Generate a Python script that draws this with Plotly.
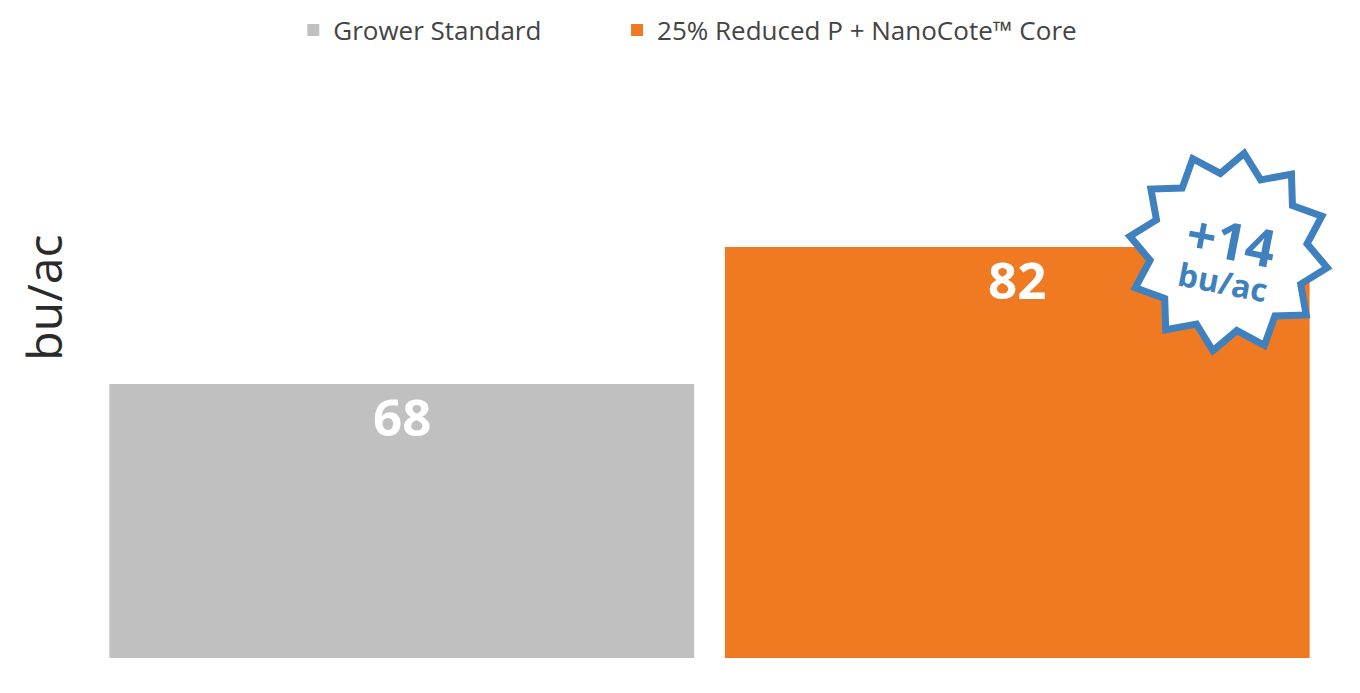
import math
import plotly.graph_objects as go

series = ["Grower Standard", "25% Reduced P + NanoCote™ Core"]
yields = [68, 82]
colors = ["#c0c0c0", "#f07a22"]
badge_main = "+14"
badge_unit = "bu/ac"
y_title = "bu/ac"

BLUE = "#3f80bf"
FONT = "Open Sans"

# plot area size in px, used to place the badge in paper units without distortion
PW, PH = 1232, 587

fig = go.Figure()
legends = ["legend", "legend2"]
for name, val, col, lg in zip(series, yields, colors, legends):
    fig.add_trace(go.Bar(x=[name], y=[val], name=name, marker_color=col,
                         marker_line_width=0, hoverinfo="skip", legend=lg))
    fig.add_annotation(x=name, y=val, text="<b>%d</b>" % val, showarrow=False,
                       yanchor="top", yshift=5,
                       font=dict(family=FONT, size=51, color="white"))

# starburst badge, 12 points
cx, cy = 1135.5, 406
pts = []
for i in range(24):
    ang = math.radians(9 + 15 * i)
    r = 100 if i % 2 == 0 else 79
    pts.append(((cx + r * math.sin(ang)) / PW, (cy + r * math.cos(ang)) / PH))
path = "M " + " L ".join("%.5f %.5f" % p for p in pts) + " Z"
fig.add_shape(type="path", path=path, xref="paper", yref="paper", layer="above",
              fillcolor="#ffffff", line=dict(color=BLUE, width=7))
fig.add_annotation(xref="paper", yref="paper", x=cx / PW, y=cy / PH, xshift=3, yshift=13,
                   text="<b>%s</b>" % badge_main, showarrow=False, textangle=11,
                   xanchor="center", yanchor="middle",
                   font=dict(family=FONT, size=52, color=BLUE))
fig.add_annotation(xref="paper", yref="paper", x=cx / PW, y=cy / PH, xshift=-6, yshift=-29,
                   text="<b>%s</b>" % badge_unit, showarrow=False, textangle=11,
                   xanchor="center", yanchor="middle",
                   font=dict(family=FONT, size=32, color=BLUE))

fig.add_annotation(xref="paper", yref="paper", x=0, y=0.613, xshift=-50.5,
                   xanchor="center", yanchor="middle",
                   text=y_title, showarrow=False, textangle=-90,
                   font=dict(family=FONT, size=48, color="#2a2a2a"))

leg_font = dict(family=FONT, size=26, color="#444444")
leg_y = 1 - 22 / 677
fig.update_layout(
    width=1344, height=677,
    margin=dict(l=85.5, r=26.5, t=63, b=27, autoexpand=False),
    paper_bgcolor="white", plot_bgcolor="white",
    barmode="relative", bargap=0.05,
    showlegend=True,
    legend=dict(orientation="h", x=0.1619, xanchor="left", y=leg_y, yanchor="middle",
                yref="container", font=leg_font),
    legend2=dict(orientation="h", x=0.4249, xanchor="left", y=leg_y, yanchor="middle",
                 yref="container", font=leg_font),
    xaxis=dict(showticklabels=False, showgrid=False, zeroline=False, showline=False),
    yaxis=dict(range=[40, 100], showticklabels=False, showgrid=False,
               zeroline=False, showline=False),
)

fig.write_html("out.html")
